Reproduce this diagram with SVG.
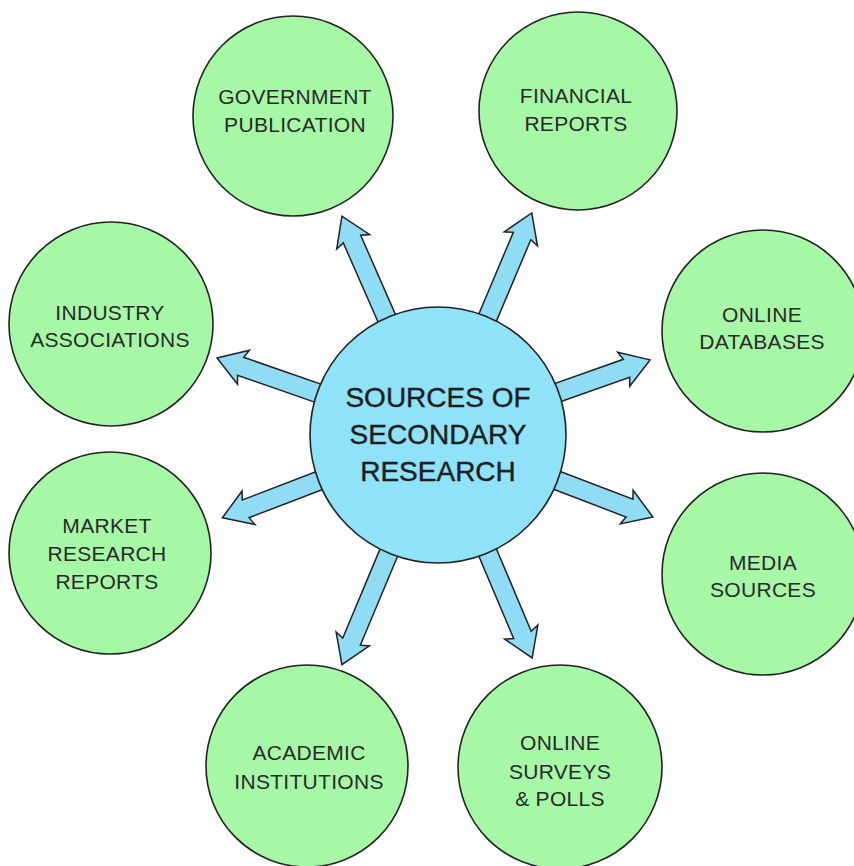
<svg xmlns="http://www.w3.org/2000/svg" width="854" height="866" viewBox="0 0 854 866">
<style>
.leaf{fill:#a6f7a6;stroke:#222;stroke-width:1.6}
.hub{fill:#8fe2f8;stroke:#222;stroke-width:1.6}
.arr{fill:#8fdcf4;stroke:#222;stroke-width:1.5;stroke-linejoin:miter}
.t{font-family:"Liberation Sans",Arial,sans-serif;font-size:21px;fill:#2a2a2a;text-anchor:middle;letter-spacing:0.3px}
.ht{font-family:"Liberation Sans",Arial,sans-serif;font-size:28px;fill:#1e1e1e;text-anchor:middle;stroke:#1e1e1e;stroke-width:0.4}
</style>
<rect width="854" height="866" fill="#fff"/>
<g id="connectors">
<path class="arr" transform="translate(438,435) rotate(-113.7)" d="M100,-9.5 L214,-9.5 L211,-18 L239,0 L211,18 L214,9.5 L100,9.5 Z"/>
<path class="arr" transform="translate(438,435) rotate(-67.1)" d="M100,-9.5 L216,-9.5 L213,-18 L241,0 L213,18 L216,9.5 L100,9.5 Z"/>
<path class="arr" transform="translate(438,435) rotate(-19.5)" d="M100,-9.5 L200,-9.5 L197,-18 L225,0 L197,18 L200,9.5 L100,9.5 Z"/>
<path class="arr" transform="translate(438,435) rotate(20.9)" d="M100,-9.5 L205,-9.5 L202,-18 L230,0 L202,18 L205,9.5 L100,9.5 Z"/>
<path class="arr" transform="translate(438,435) rotate(67.1)" d="M100,-9.5 L217,-9.5 L214,-18 L242,0 L214,18 L217,9.5 L100,9.5 Z"/>
<path class="arr" transform="translate(438,435) rotate(112.7)" d="M100,-9.5 L224,-9.5 L221,-18 L249,0 L221,18 L224,9.5 L100,9.5 Z"/>
<path class="arr" transform="translate(438,435) rotate(159)" d="M100,-9.5 L206,-9.5 L203,-18 L231,0 L203,18 L206,9.5 L100,9.5 Z"/>
<path class="arr" transform="translate(438,435) rotate(-160.8)" d="M100,-9.5 L209,-9.5 L206,-18 L234,0 L206,18 L209,9.5 L100,9.5 Z"/>
</g>
<g id="hub">
<circle class="hub" cx="438" cy="435" r="128"/>
<text class="ht" x="438" y="407">SOURCES OF</text>
<text class="ht" x="438" y="444">SECONDARY</text>
<text class="ht" x="438" y="481">RESEARCH</text>
</g>
<g id="government">
<circle class="leaf" cx="293" cy="116" r="100"/>
<text class="t" x="295" y="104">GOVERNMENT</text>
<text class="t" x="295" y="132">PUBLICATION</text>
</g>
<g id="financial">
<circle class="leaf" cx="578" cy="111" r="99"/>
<text class="t" x="576" y="103">FINANCIAL</text>
<text class="t" x="576" y="131">REPORTS</text>
</g>
<g id="databases">
<circle class="leaf" cx="763" cy="331" r="101"/>
<text class="t" x="762" y="322">ONLINE</text>
<text class="t" x="762" y="349">DATABASES</text>
</g>
<g id="media">
<circle class="leaf" cx="763" cy="574" r="101"/>
<text class="t" x="763" y="570">MEDIA</text>
<text class="t" x="763" y="597">SOURCES</text>
</g>
<g id="surveys">
<circle class="leaf" cx="560" cy="767" r="102"/>
<text class="t" x="560" y="750">ONLINE</text>
<text class="t" x="560" y="779">SURVEYS</text>
<text class="t" x="560" y="806">&amp; POLLS</text>
</g>
<g id="academic">
<circle class="leaf" cx="307" cy="766" r="101"/>
<text class="t" x="309" y="760">ACADEMIC</text>
<text class="t" x="309" y="789">INSTITUTIONS</text>
</g>
<g id="market">
<circle class="leaf" cx="110" cy="553" r="101"/>
<text class="t" x="107" y="533">MARKET</text>
<text class="t" x="107" y="561">RESEARCH</text>
<text class="t" x="107" y="589">REPORTS</text>
</g>
<g id="industry">
<circle class="leaf" cx="111" cy="324" r="102"/>
<text class="t" x="110" y="320">INDUSTRY</text>
<text class="t" x="110" y="347">ASSOCIATIONS</text>
</g>
</svg>
